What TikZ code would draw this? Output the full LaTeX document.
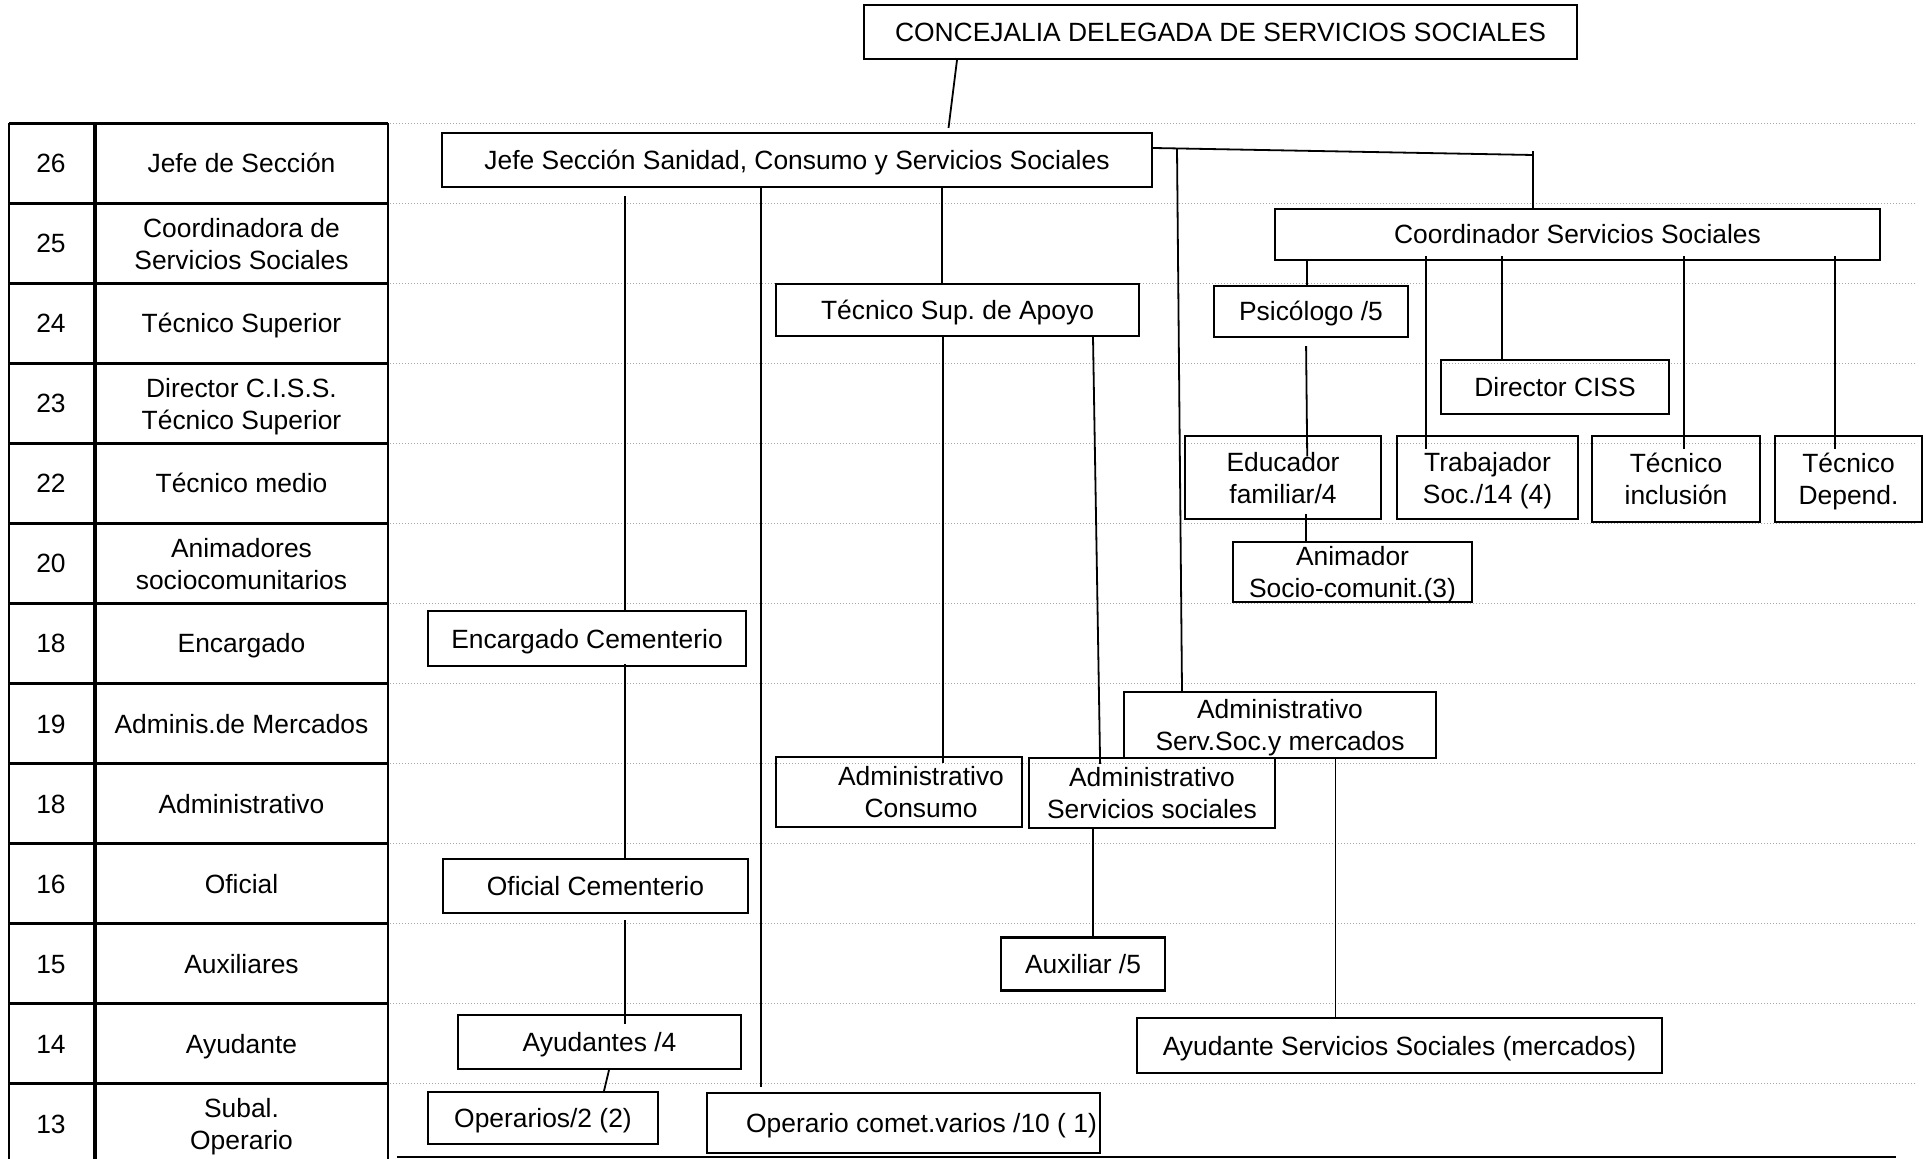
\documentclass[tikz,border=0pt]{standalone}
\usepackage{fontspec}
\setmainfont{Liberation Sans}
\frenchspacing

\begin{document}
\begin{tikzpicture}[x=0.5pt, y=-0.5pt,
    every node/.style={font=\fontsize{13.2pt}{16pt}\selectfont},
    one/.style={text height=9.5pt, text depth=0pt},
    two/.style={text depth=0pt},
    box/.style={draw, line width=1.1pt, inner sep=0pt, align=center},
    thinbox/.style={box, line width=0.6pt},
    link/.style={line width=0.9pt},
    grid/.style={gray!70, densely dotted, line width=0.5pt}]
    \useasboundingbox (0,0) rectangle (1926,1159);

    % level table on the left
    \foreach \num/\cat/\sty [count=\i from 0] in {26/Jefe de Sección/one,
        25/{Coordinadora de\\Servicios Sociales}/two, 24/Técnico Superior/one,
        23/{Director C.I.S.S.\\Técnico Superior}/two, 22/Técnico medio/one,
        20/{Animadores\\sociocomunitarios}/two, 18/Encargado/one,
        19/Adminis.de Mercados/one, 18/Administrativo/one, 16/Oficial/one,
        15/Auxiliares/one, 14/Ayudante/one, 13/{Subal.\\Operario}/two} {
        \node[one] (grade\i) at (51,{163.5+80*\i}) {\num};
        \node[align=center, \sty] (cat\i) at (241.5,{163.5+80*\i}) {\cat};
        \draw[line width=1.6pt] (9,{123.5+80*\i}) -- (388,{123.5+80*\i});
    }
    \draw[line width=1.4pt] (9,123.5) -- (9,1163);
    \draw[line width=2pt] (95,123.5) -- (95,1163);
    \draw[line width=1pt] (388,123.5) -- (388,1163);

    % dotted level lines
    \foreach \k in {0,...,12}
        \draw[grid] (390,{123.5+80*\k}) -- (1916,{123.5+80*\k});
    \draw[line width=1.3pt] (397,1157) -- (1896,1157);

    % boxes
    \node[box, one, minimum width=356.5pt, minimum height=27pt] (conc) at (1220.5,32)
        {CONCEJALIA DELEGADA DE SERVICIOS SOCIALES};
    \node[box, one, minimum width=355pt, minimum height=27pt] (jefe) at (797,160)
        {Jefe Sección Sanidad, Consumo y Servicios Sociales};
    \node[box, one, minimum width=302.5pt, minimum height=25.5pt] (coord) at (1577.5,234.5)
        {Coordinador Servicios Sociales};
    \node[box, one, minimum width=181.5pt, minimum height=26pt] (tsup) at (957.5,310)
        {Técnico Sup. de Apoyo};
    \node[box, one, minimum width=97pt, minimum height=25.5pt] (psico) at (1311,311.5)
        {Psicólogo /5};
    \node[box, one, minimum width=114pt, minimum height=27pt] (dciss) at (1555,387)
        {Director CISS};
    \node[thinbox, two, minimum width=98pt, minimum height=41.5pt] (educ) at (1283,477.5)
        {Educador\\familiar/4};
    \node[thinbox, two, minimum width=90.5pt, minimum height=41.5pt] (trab) at (1487.5,477.5)
        {Trabajador\\Soc./14 (4)};
    \node[box, two, minimum width=84pt, minimum height=43pt] (tinc) at (1676,479)
        {Técnico\\inclusión};
    \node[box, two, minimum width=73.5pt, minimum height=43pt] (tdep) at (1848.5,479)
        {Técnico\\Depend.};
    \node[box, two, minimum width=119.5pt, minimum height=30pt] (anim) at (1352.5,572)
        {Animador\\Socio-comunit.(3)};
    \node[box, one, minimum width=159pt, minimum height=27.5pt] (enc) at (587,638.5)
        {Encargado Cementerio};
    \node[box, two, minimum width=156pt, minimum height=33pt] (admerc) at (1280,725)
        {Administrativo\\Serv.Soc.y mercados};
    \node[box, minimum width=123pt, minimum height=35pt,
        label={[align=center, two, xshift=11pt]center:Administrativo\\Consumo}] (admcons) at (899,792) {};
    \node[box, two, minimum width=123pt, minimum height=35pt] (admss) at (1152,793)
        {Administrativo\\Servicios sociales};
    \node[box, one, minimum width=152.5pt, minimum height=27pt] (ofic) at (595.5,886)
        {Oficial Cementerio};
    \node[box, one, minimum width=82pt, minimum height=26.5pt] (aux) at (1083,964)
        {Auxiliar /5};
    \node[box, one, minimum width=141.5pt, minimum height=27pt] (ayud) at (599.5,1042)
        {Ayudantes /4};
    \node[box, one, minimum width=262.5pt, minimum height=27.5pt] (ayss) at (1399.5,1045.5)
        {Ayudante Servicios Sociales (mercados)};
    \node[box, one, minimum width=115pt, minimum height=26pt] (oper) at (543,1118)
        {Operarios/2 (2)};
    \node[box, minimum width=196.5pt, minimum height=30pt,
        label={[one, xshift=9pt]center:Operario comet.varios /10 ( 1)}] (opcv) at (903.5,1123) {};

    % connectors
    \draw[link, shorten >=2pt] (conc.south -| 957,0) -- (jefe.north -| 948,0);
    \draw[link, shorten <=4pt] (jefe.south -| 625,0) -- (enc.north -| 625,0);
    \draw[link, shorten >=2.5pt] (jefe.south -| 761,0) -- (opcv.north -| 761,0);
    \draw[link] (jefe.south -| 942,0) -- (tsup.north -| 942,0);
    \coordinate (hub) at (1533,155);
    \coordinate (split) at (1177,149);
    \draw[link] (jefe.east |- 0,148) -- (hub);
    \draw[link, shorten <=-2pt] (hub) -- (coord.north -| hub);
    \draw[link] (split) -- (admerc.north -| 1182,0);

    \draw[link] (coord.south -| 1307,0) -- (psico.north -| 1307,0);
    \draw[link, shorten <=-2.5pt] (coord.south -| 1502,0) -- (dciss.north -| 1502,0);
    \foreach \x/\dst in {1426/trab, 1684/tinc, 1835/tdep}
        \draw[link, shorten <=-2.5pt, shorten >=-7pt] (coord.south -| \x,0) -- (\dst.north -| \x,0);
    \draw[link, shorten <=4pt, shorten >=-10.5pt] (psico.south -| 1306,0) -- (educ.north -| 1307,0);
    \draw[link, shorten <=-3pt] (educ.south -| 1306,0) -- (anim.north -| 1306,0);

    \draw[link, shorten <=-1.5pt] (enc.south -| 625,0) -- (ofic.north -| 625,0);
    \draw[link, shorten <=3pt, shorten >=-5pt] (ofic.south -| 625,0) -- (ayud.north -| 625,0);
    \draw[link] (ayud.south -| 609,0) -- (oper.north -| 604,0);

    \draw[link, shorten >=-3.5pt] (tsup.south -| 943,0) -- (admcons.north -| 943,0);
    \draw[link, shorten >=-3.5pt] (tsup.south -| 1093,0) -- (admss.north -| 1100,0);
    \draw[link] (admss.south -| 1093,0) -- (aux.north -| 1093,0);
    \draw[link] (admerc.south -| 1335.5,0) -- (ayss.north -| 1335.5,0);
\end{tikzpicture}
\end{document}
